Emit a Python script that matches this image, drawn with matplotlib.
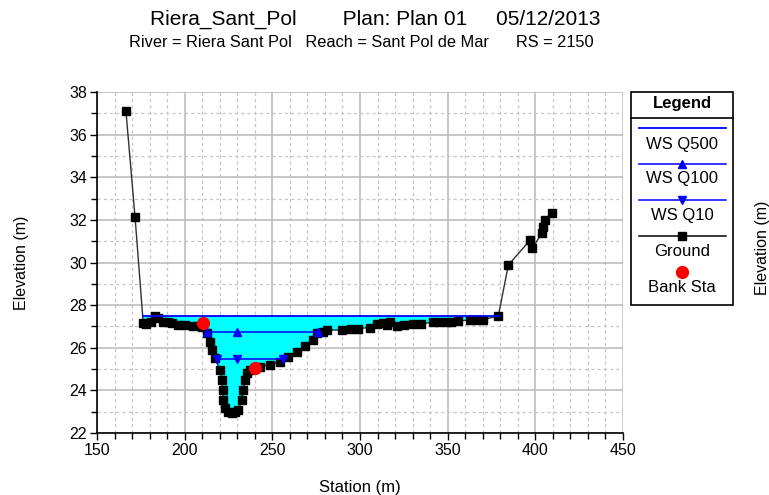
import matplotlib
matplotlib.use("Agg")
import matplotlib.pyplot as plt
from matplotlib.lines import Line2D
from matplotlib.patches import Rectangle
from matplotlib.ticker import MultipleLocator

plt.rcParams["font.family"] = ["Liberation Sans", "DejaVu Sans"]

# Cross section geometry (station m, elevation m)
ground_sta = [166.5, 171.7, 176.4, 178, 181, 183.1, 184.8, 187.8, 190.7, 193,
              196.4, 200.2, 205, 210, 212.6, 214.5, 215.4, 217.3, 220.2, 221.1,
              221.7, 222.1, 223, 224.5, 226.8, 229, 230.6, 232.5, 233.5, 234.4,
              235.4, 237.5, 243, 248.7, 254.4, 259, 264, 268.7, 273.4, 275.3,
              279.1, 281, 289.6, 295, 299, 305.7, 309.5, 313.3, 315.3, 317.1,
              321, 325, 330.4, 335, 341.8, 345, 349.5, 352, 356.1, 362.8,
              366, 370, 378.9, 384.6, 397, 398.3, 403.6, 404.6, 405.6, 409.4]
ground_elev = [37.12, 32.15, 27.14, 27.12, 27.2, 27.5, 27.4, 27.22, 27.2, 27.15,
               27.06, 27.06, 27.0, 26.98, 26.67, 26.28, 25.9, 25.5, 24.95, 24.5,
               24.0, 23.54, 23.15, 22.98, 22.95, 22.97, 23.07, 23.54, 24.0, 24.5,
               24.8, 24.95, 25.1, 25.2, 25.34, 25.57, 25.8, 26.1, 26.36, 26.67,
               26.75, 26.83, 26.83, 26.86, 26.9, 26.95, 27.1, 27.14, 27.06, 27.2,
               27.0, 27.05, 27.1, 27.12, 27.2, 27.2, 27.2, 27.22, 27.26, 27.3,
               27.28, 27.32, 27.48, 29.88, 31.05, 30.66, 31.37, 31.68, 32.0, 32.33]

bank_sta = [210.6, 240.1]
bank_elev = [27.17, 25.07]

# Water surfaces
ws_q500 = 27.48
ws_q500_sta = [176.5, 379.5]
ws_q100 = 26.72
ws_q100_sta = [212.5, 230, 276]
ws_q10 = 25.45
ws_q10_sta = [218.3, 230, 256.3]

fig = plt.figure(figsize=(7.69, 4.95), dpi=100)
ax = fig.add_axes([0.1261, 0.1253, 0.6840, 0.6887])

# water area below the highest profile
ws_line = [ws_q500] * len(ground_sta)
ax.fill_between(ground_sta, ground_elev, ws_line,
                where=[g < ws_q500 for g in ground_elev],
                interpolate=True, color="#00FFFF", lw=0, zorder=2)

ax.plot(ground_sta, ground_elev, color="#303030", lw=1, marker="s", ms=6.3,
        mfc="black", mec="black", zorder=4)
ax.plot(ws_q500_sta, [ws_q500] * 2, color="#0000FF", lw=1.3, zorder=5)
ax.plot(ws_q100_sta, [ws_q100] * 3, color="#0000FF", lw=1.1,
        marker="^", ms=5.5, zorder=5)
ax.plot(ws_q10_sta, [ws_q10] * 3, color="#0000FF", lw=1.1,
        marker="v", ms=5.5, zorder=5)
ax.plot(bank_sta, bank_elev, "o", color="#FF0000", ms=8.5, zorder=6)

ax.set_xlim(150, 450)
ax.set_ylim(22, 38)
ax.xaxis.set_major_locator(MultipleLocator(50))
ax.xaxis.set_minor_locator(MultipleLocator(10))
ax.yaxis.set_major_locator(MultipleLocator(2))
ax.yaxis.set_minor_locator(MultipleLocator(1))
ax.grid(True, which="major", color="#bdbdbd", lw=1.2, ls="-", zorder=0)
ax.grid(True, which="minor", color="#c6c6c6", lw=0.9, ls=(0, (2.5, 2.5)), zorder=0)
ax.set_axisbelow(True)
ax.tick_params(which="major", direction="out", length=5, width=1, labelsize=11.5, pad=2)
ax.tick_params(which="minor", direction="out", length=4, width=1)
for side in ("top", "right"):
    ax.spines[side].set_visible(False)
for side in ("left", "bottom"):
    ax.spines[side].set_linewidth(1.2)

ax.set_xlabel("Station (m)", fontsize=12, labelpad=16)
ax.set_ylabel("Elevation (m)", fontsize=11.5, labelpad=29)
fig.text(0.991, 0.5, "Elevation (m)", rotation=90, fontsize=11.5,
         ha="center", va="center")

# Titles
fig.text(0.488, 0.951, "Riera_Sant_Pol        Plan: Plan 01     05/12/2013",
         fontsize=15, ha="center", va="baseline")
fig.text(0.4695, 0.905, "River = Riera Sant Pol   Reach = Sant Pol de Mar      RS = 2150",
         fontsize=11.8, ha="center", va="baseline")

# Legend panel
fig.add_artist(Rectangle((0.8205, 0.3838), 0.1325, 0.4297, transform=fig.transFigure,
                         fill=False, ec="black", lw=1.2))
fig.add_artist(Line2D([0.8205, 0.953], [0.7622, 0.7622], transform=fig.transFigure,
                      color="black", lw=1.2))
cx = 0.887
fig.text(cx, 0.7913, "Legend", fontsize=12, fontweight="bold", ha="center", va="center")
x0, x1 = 0.831, 0.944
entries = [
    (0.7408, 0.7085, "WS Q500", dict(color="#0000FF", lw=1.3, marker=None)),
    (0.6681, 0.6384, "WS Q100", dict(color="#0000FF", lw=1.1, marker="^", ms=5.5)),
    (0.5960, 0.5642, "WS Q10", dict(color="#0000FF", lw=1.1, marker="v", ms=5.5)),
    (0.5238, 0.4915, "Ground", dict(color="black", lw=1.1, marker="s", ms=6.3)),
]
for yl, yt, label, style in entries:
    marker = style.pop("marker")
    ms = style.pop("ms", 0)
    fig.add_artist(Line2D([x0, x1], [yl, yl], transform=fig.transFigure, **style))
    if marker:
        fig.add_artist(Line2D([cx], [yl], transform=fig.transFigure, marker=marker,
                              ms=ms, color=style["color"], lw=0))
    fig.text(cx, yt, label, fontsize=12, ha="center", va="center")
fig.add_artist(Line2D([cx], [0.4511], transform=fig.transFigure, marker="o",
                      ms=8.5, color="#FF0000", lw=0))
fig.text(cx, 0.4196, "Bank Sta", fontsize=12, ha="center", va="center")

fig.savefig("out.png", dpi=100)
